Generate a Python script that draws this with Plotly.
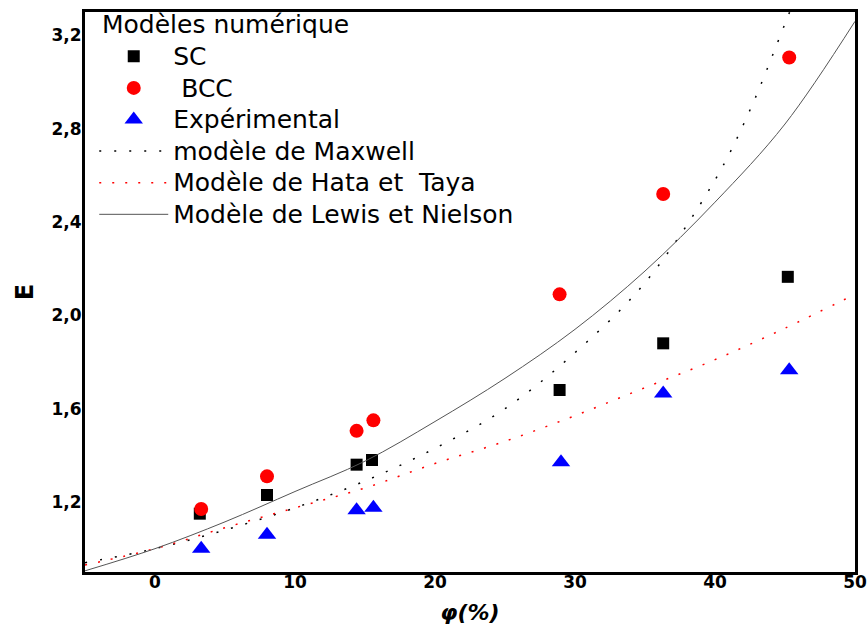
import plotly.graph_objects as go

sc_x = [3.2, 8.0, 14.4, 15.5, 28.9, 36.3, 45.2]
sc_y = [1.15, 1.23, 1.36, 1.38, 1.68, 1.88, 2.165]

bcc_x = [3.3, 8.0, 14.4, 15.6, 28.9, 36.3, 45.3]
bcc_y = [1.17, 1.31, 1.505, 1.55, 2.09, 2.52, 3.105]

exp_x = [3.3, 8.0, 14.4, 15.6, 29.0, 36.3, 45.3]
exp_y = [1.0, 1.06, 1.165, 1.175, 1.37, 1.665, 1.765]

# Model curves
max_x = [-5, 0, 5, 10, 15, 20, 25, 30, 35, 40, 42.5, 45, 45.6]
max_y = [0.94, 1.0, 1.08, 1.175, 1.29, 1.43, 1.60, 1.84, 2.14, 2.58, 2.88, 3.25, 3.34]

hata_x = [-5, 0, 5, 10, 15, 20, 25, 30, 35, 40, 45, 50]
hata_y = [0.93, 1.0, 1.09, 1.175, 1.26, 1.365, 1.46, 1.57, 1.69, 1.81, 1.945, 2.09]

lewis_x = [-5, 0, 5, 10, 15, 20, 25, 30, 35, 40, 45, 50]
lewis_y = [0.905, 1.0, 1.115, 1.245, 1.375, 1.545, 1.73, 1.94, 2.19, 2.485, 2.82, 3.26]

x_ticks = [0, 10, 20, 30, 40, 50]
y_ticks = [1.2, 1.6, 2.0, 2.4, 2.8, 3.2]
y_tick_text = ["1,2", "1,6", "2,0", "2,4", "2,8", "3,2"]

legend_title = "Modèles numérique"
names = ["SC", "\u00a0BCC", "Expérimental", "modèle de Maxwell",
         "Modèle de Hata et\u00a0 Taya", "Modèle de Lewis et Nielson"]

FONT = "DejaVu Sans, sans-serif"


def big(t):
    return '<span style="font-size:25px">' + t + '</span>'


fig = go.Figure()
fig.add_trace(go.Scatter(x=sc_x, y=sc_y, mode="markers", name=big(names[0]),
                         marker=dict(symbol="square", size=12, color="black")))
fig.add_trace(go.Scatter(x=bcc_x, y=bcc_y, mode="markers", name=big(names[1]),
                         marker=dict(symbol="circle", size=14, color="#ff0000")))
fig.add_trace(go.Scatter(x=exp_x, y=exp_y, mode="markers", name=big(names[2]),
                         marker=dict(symbol="triangle-up", size=16, color="#0000ff")))
fig.add_trace(go.Scatter(x=max_x, y=max_y, mode="lines", name=big(names[3]),
                         line=dict(color="black", width=1.5, dash="2px,13px"),
                         line_shape="spline"))
fig.add_trace(go.Scatter(x=hata_x, y=hata_y, mode="lines", name=big(names[4]),
                         line=dict(color="#ff0000", width=1.5, dash="2px,11px"),
                         line_shape="spline"))
fig.add_trace(go.Scatter(x=lewis_x, y=lewis_y, mode="lines", name=big(names[5]),
                         line=dict(color="#555555", width=1),
                         line_shape="spline"))

fig.add_annotation(text=legend_title, xref="paper", yref="paper",
                   x=0.0195, y=0.9768, xanchor="left", yanchor="middle",
                   showarrow=False, font=dict(size=25, family=FONT, color="black"))

fig.update_layout(
    width=868, height=633,
    margin=dict(l=85, r=13, t=12, b=61),
    paper_bgcolor="white", plot_bgcolor="white",
    font=dict(family=FONT, color="black"),
    showlegend=True,
    legend=dict(
        x=0.012, y=0.958, xanchor="left", yanchor="top",
        bgcolor="rgba(0,0,0,0)",
        font=dict(size=22, family=FONT),
        tracegroupgap=0, itemsizing="trace", itemwidth=69,
    ),
    xaxis=dict(
        range=[-5, 50], tickvals=x_ticks, ticks="", showgrid=False, zeroline=False,
        showline=True, linewidth=3, linecolor="black", mirror=True, automargin=False,
        tickfont=dict(size=17, family=FONT, weight="bold"), ticklabelstandoff=-7,
        title=dict(text="<b><i>φ(%)</i></b>", font=dict(size=22, family=FONT), standoff=14),
    ),
    yaxis=dict(
        range=[0.9, 3.3], tickvals=y_ticks, ticktext=y_tick_text, ticks="",
        showgrid=False, zeroline=False, automargin=False,
        showline=True, linewidth=3, linecolor="black", mirror=True,
        tickfont=dict(size=17, family=FONT, weight="bold"), ticklabelstandoff=-3,
        title=dict(text="<b>E</b>", font=dict(size=24, family=FONT), standoff=12),
    ),
)

fig.write_html("out.html")
